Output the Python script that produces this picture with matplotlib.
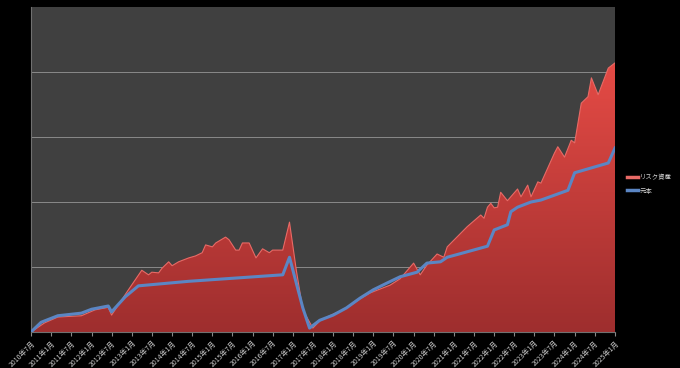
import numpy as np
import pandas as pd
import matplotlib
matplotlib.use("Agg")
import matplotlib.pyplot as plt
import matplotlib.dates as mdates

plt.rcParams['font.family'] = ['Noto Sans CJK JP', 'DejaVu Sans']

# リスク資産 (risk assets), value units: 1 grid step = 100
risk_months = ["2010-07", "2010-11", "2011-03", "2011-10", "2012-02", "2012-05", "2012-06",
               "2012-07", "2012-12", "2013-04", "2013-06", "2013-07", "2013-09", "2013-10",
               "2013-12", "2014-01", "2014-03", "2014-06", "2014-08", "2014-10", "2014-11",
               "2015-01", "2015-02", "2015-05", "2015-06", "2015-08", "2015-09", "2015-10",
               "2015-12", "2016-02", "2016-04", "2016-06", "2016-07", "2016-10", "2016-12",
               "2017-02", "2017-04", "2017-07", "2017-09", "2017-12", "2018-03", "2018-06",
               "2018-09", "2018-12", "2019-03", "2019-06", "2019-09", "2020-01", "2020-03",
               "2020-05", "2020-08", "2020-10", "2020-11", "2021-05", "2021-09", "2021-10",
               "2021-11", "2021-12", "2022-01", "2022-02", "2022-03", "2022-05", "2022-08",
               "2022-09", "2022-11", "2022-12", "2023-02", "2023-03", "2023-07", "2023-08",
               "2023-10", "2023-12", "2024-01", "2024-03", "2024-05", "2024-06", "2024-08",
               "2024-11", "2025-01"]
risk_values = [0, 14, 23, 25, 34, 37, 38,
               26, 65, 95, 88, 92, 91, 98,
               108, 102, 108, 114, 117, 122, 134,
               131, 137, 146, 142, 126, 126, 137,
               137, 114, 128, 122, 126, 126, 169,
               95, 34, 6, 17, 25, 32, 40,
               51, 60, 66, 72, 82, 106, 88,
               103, 120, 115, 131, 162, 180, 175,
               192, 198, 191, 192, 215, 202, 220,
               208, 226, 208, 231, 229, 275, 285,
               269, 295, 291, 352, 362, 391, 365,
               406, 414]

# 元本 (principal)
principal_months = ["2010-07", "2010-10", "2011-03", "2011-10", "2012-01", "2012-06", "2012-07",
                    "2012-11", "2013-03", "2014-06", "2016-10", "2016-12", "2017-04", "2017-06",
                    "2017-09", "2018-01", "2018-05", "2018-09", "2019-01", "2019-05", "2019-09",
                    "2020-02", "2020-05", "2020-09", "2020-11", "2021-04", "2021-11", "2022-01",
                    "2022-05", "2022-06", "2022-08", "2022-12", "2023-03", "2023-11", "2024-01",
                    "2024-11", "2025-01"]
principal_values = [0, 15, 25, 29, 35, 40, 31,
                    54, 71, 78, 88, 115, 37, 6,
                    18, 26, 37, 52, 65, 75, 85,
                    92, 106, 108, 115, 122, 132, 157,
                    165, 185, 192, 200, 203, 218, 245,
                    260, 283]

tick_months = pd.date_range("2010-07-01", "2025-01-01", freq="6MS")
tick_labels = [f"{d.year}年{d.month}月" for d in tick_months]

risk_x = pd.to_datetime(risk_months)
prin_x = pd.to_datetime(principal_months)

fig = plt.figure(figsize=(6.8, 3.68), dpi=100, facecolor='black')
ax = fig.add_axes([31/680, 1-332/368, 584/680, 325/368])
ax.set_facecolor('#404040')

ymax = 500
xmin, xmax = mdates.date2num(tick_months[0]), mdates.date2num(tick_months[-1])

# red area with vertical gradient
poly = ax.fill_between(risk_x, 0, risk_values, color='none', lw=0, zorder=2)
grad = np.linspace(1, 0, 256).reshape(-1, 1)
top = np.array([232, 76, 70]) / 255
bot = np.array([158, 46, 46]) / 255
img = top * grad[..., None] + bot * (1 - grad[..., None])
im = ax.imshow(img, extent=[xmin, xmax, 0, 430], aspect='auto', origin='upper', zorder=2)
im.set_clip_path(poly.get_paths()[0], transform=ax.transData)
ax.plot(risk_x, risk_values, color='#e86a66', lw=0.8, zorder=3)

ax.plot(prin_x, principal_values, color='#5b86c4', lw=2.2, zorder=4, solid_joinstyle='round')

ax.set_xlim(xmin, xmax)
ax.set_ylim(0, ymax)
ax.set_yticks([100, 200, 300, 400])
ax.set_yticklabels([])
ax.tick_params(axis='y', length=0)
ax.grid(axis='y', color='#8a8a8a', lw=0.7, zorder=1)
ax.set_axisbelow(True)

ax.set_xticks(tick_months)
ax.set_xticklabels(tick_labels, rotation=45, ha='right', rotation_mode='anchor',
                   fontsize=5, color='#c8c8c8')
ax.tick_params(axis='x', length=3, color='#888888', pad=2)

for s in ['top', 'right']:
    ax.spines[s].set_visible(False)
ax.spines['left'].set_color('#707070')
ax.spines['bottom'].set_color('#707070')

h1, = ax.plot([], [], color='#e86a66', lw=2.5)
h2, = ax.plot([], [], color='#5b86c4', lw=2.5)
fig.legend([h1, h2], ["リスク資産", "元本"], loc='center left', bbox_to_anchor=(0.922, 0.5),
           frameon=False, fontsize=4.6, labelcolor='#d0d0d0', handlelength=1.8,
           handletextpad=0.2, labelspacing=0.8, borderpad=0, borderaxespad=0)

fig.savefig("out.png", dpi=100, facecolor='black')
